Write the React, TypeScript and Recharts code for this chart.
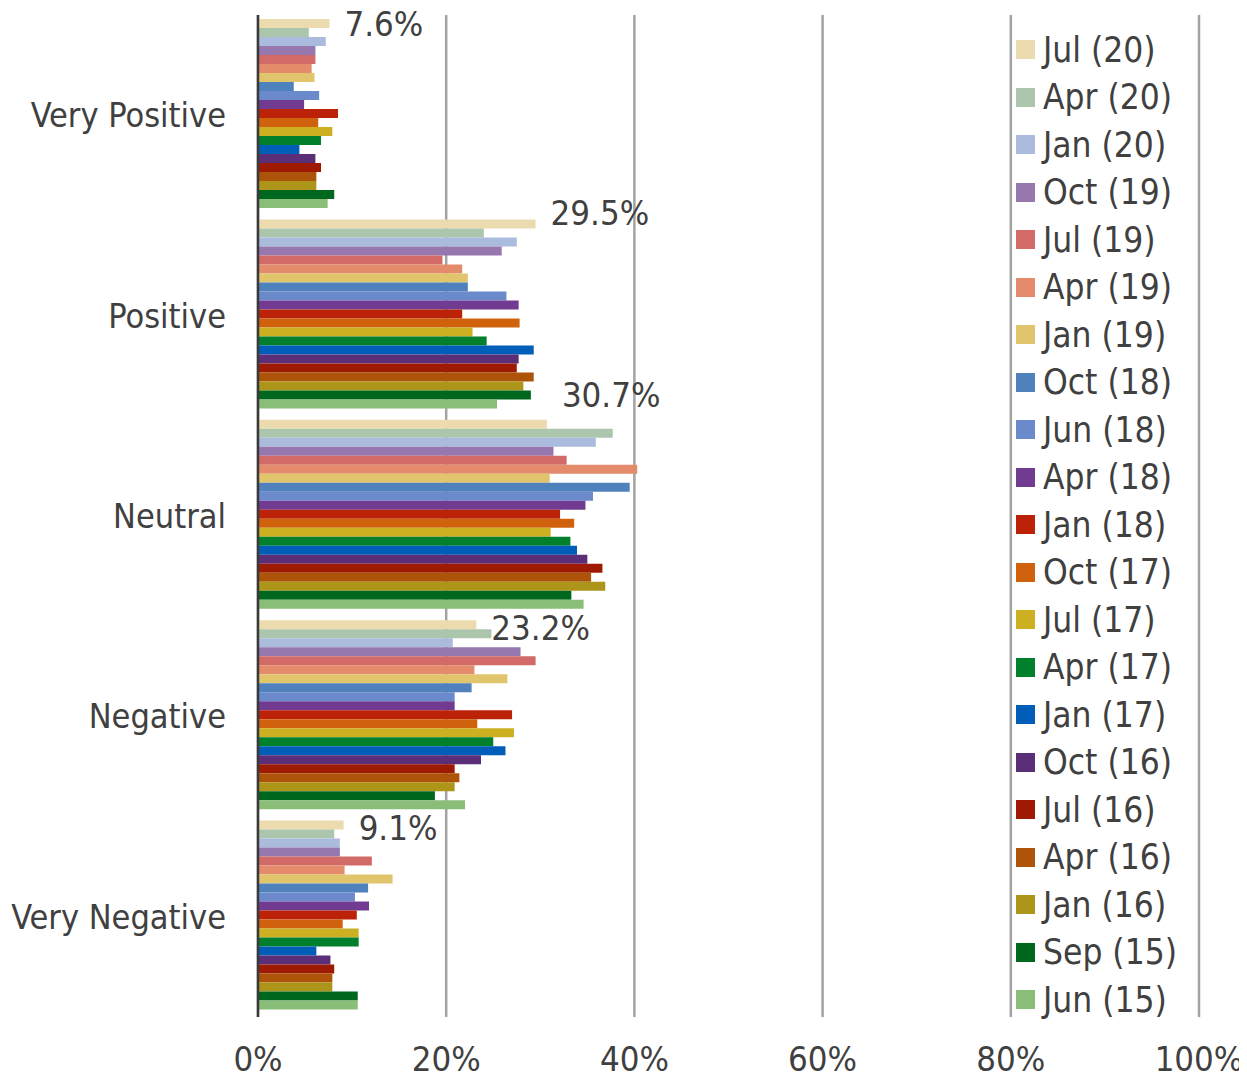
import React from 'react';
import { BarChart, Bar, XAxis, YAxis, CartesianGrid, Legend, LabelList } from 'recharts';

const categories = ['Very Positive', 'Positive', 'Neutral', 'Negative', 'Very Negative'];

const seriesNames = [
  'Jul (20)', 'Apr (20)', 'Jan (20)', 'Oct (19)', 'Jul (19)', 'Apr (19)', 'Jan (19)',
  'Oct (18)', 'Jun (18)', 'Apr (18)', 'Jan (18)', 'Oct (17)', 'Jul (17)', 'Apr (17)',
  'Jan (17)', 'Oct (16)', 'Jul (16)', 'Apr (16)', 'Jan (16)', 'Sep (15)', 'Jun (15)',
];

// values per survey wave, in category order
const jul20 = [7.6, 29.5, 30.7, 23.2, 9.1];
const apr20 = [5.4, 24.0, 37.7, 24.8, 8.1];
const jan20 = [7.2, 27.5, 35.9, 20.7, 8.7];
const oct19 = [6.1, 25.9, 31.4, 27.9, 8.7];
const jul19 = [6.1, 19.6, 32.8, 29.5, 12.1];
const apr19 = [5.7, 21.7, 40.3, 23.0, 9.2];
const jan19 = [6.0, 22.3, 31.0, 26.5, 14.3];
const oct18 = [3.8, 22.3, 39.5, 22.7, 11.7];
const jun18 = [6.5, 26.4, 35.6, 20.9, 10.3];
const apr18 = [4.9, 27.7, 34.8, 20.9, 11.8];
const jan18 = [8.5, 21.7, 32.1, 27.0, 10.5];
const oct17 = [6.4, 27.8, 33.6, 23.3, 9.0];
const jul17 = [7.9, 22.8, 31.1, 27.2, 10.7];
const apr17 = [6.7, 24.3, 33.2, 25.0, 10.7];
const jan17 = [4.4, 29.3, 33.9, 26.3, 6.2];
const oct16 = [6.1, 27.7, 35.0, 23.7, 7.7];
const jul16 = [6.7, 27.5, 36.6, 20.9, 8.1];
const apr16 = [6.2, 29.3, 35.4, 21.4, 7.9];
const jan16 = [6.2, 28.2, 36.9, 20.9, 7.9];
const sep15 = [8.1, 29.0, 33.3, 18.8, 10.6];
const jun15 = [7.4, 25.4, 34.6, 22.0, 10.6];

const seriesValues = [
  jul20, apr20, jan20, oct19, jul19, apr19, jan19, oct18, jun18, apr18, jan18,
  oct17, jul17, apr17, jan17, oct16, jul16, apr16, jan16, sep15, jun15,
];

const colors = [
  '#ebdbaf', '#acc5ad', '#abbbdd', '#9677ae', '#d26b67', '#e38b6b', '#e1c56c',
  '#4f81bd', '#6a8acb', '#713b91', '#bb2207', '#d0620e', '#cdb022', '#007f2c',
  '#005eb8', '#5b2e78', '#9e1a02', '#ad540a', '#ad951a', '#00671f', '#89bd78',
];

const xTicks = [0, 20, 40, 60, 80, 100];

const data = categories.map((name, i) => {
  const row: Record<string, string | number> = { name };
  seriesValues.forEach((vals, j) => {
    row[`s${j}`] = vals[i];
  });
  return row;
});

const font = "'DejaVu Sans Condensed', 'DejaVu Sans', sans-serif";
const textColor = '#404040';
const fontSize = 34.5;

// Excel nudged some of the data labels up to keep clear of the next bars
const labelShift = [0, -11, -30, 3, 2];

const renderLabel = (props: any) => {
  const { x, y, width, height, value, index } = props;
  return (
    <text
      x={Number(x) + Number(width) + 15}
      y={Number(y) + Number(height) / 2 + (labelShift[index] || 0)}
      dy="0.36em"
      fontSize={fontSize}
      fontFamily={font}
      fill={textColor}
    >
      {Number(value).toFixed(1)}%
    </text>
  );
};

const seriesIndex = (entry: any) => Number(String(entry.dataKey).slice(1));

const renderLegend = (props: any) => {
  const items = [...(props.payload || [])].sort((a, b) => seriesIndex(a) - seriesIndex(b));
  return (
    <div>
      {items.map((entry: any, i: number) => (
        <div key={i} style={{ display: 'flex', alignItems: 'center', height: 47.5 }}>
          <span style={{ width: 19, height: 19, background: entry.color, marginRight: 8, flexShrink: 0 }} />
          <span style={{ fontSize: 35, fontFamily: font, color: textColor, whiteSpace: 'nowrap' }}>{entry.value}</span>
        </div>
      ))}
    </div>
  );
};

const App: React.FC = () => {
  return (
    <div style={{ width: 1247, height: 1079, margin: '-8px 0 0 -8px', background: '#fff' }}>
      <BarChart
        width={1247}
        height={1079}
        data={data}
        layout="vertical"
        margin={{ top: 15, right: 48, bottom: 0, left: 0 }}
        barCategoryGap="2%"
        barGap={0}
      >
        <CartesianGrid horizontal={false} stroke="#a3a3a3" strokeWidth={2.5} />
        <XAxis
          type="number"
          domain={[0, 100]}
          ticks={xTicks}
          tickFormatter={(v: number) => `${v}%`}
          axisLine={false}
          tickLine={false}
          tickMargin={24}
          height={62}
          tick={{ fontSize, fontFamily: font, fill: textColor }}
        />
        <YAxis
          type="category"
          dataKey="name"
          width={258}
          axisLine={{ stroke: '#3a3a3a', strokeWidth: 2.5 }}
          tickLine={false}
          tickMargin={26}
          tick={{ fontSize: 34, fontFamily: font, fill: textColor }}
        />
        <Legend
          layout="vertical"
          align="center"
          verticalAlign="middle"
          content={renderLegend}
          wrapperStyle={{ left: 1016, top: 26, width: 228 }}
        />
        {seriesNames.map((name, j) => (
          <Bar key={name} dataKey={`s${j}`} name={name} fill={colors[j]} isAnimationActive={false}>
            {j === 0 && <LabelList dataKey={`s${j}`} content={renderLabel} />}
          </Bar>
        ))}
      </BarChart>
    </div>
  );
};

export default App;
